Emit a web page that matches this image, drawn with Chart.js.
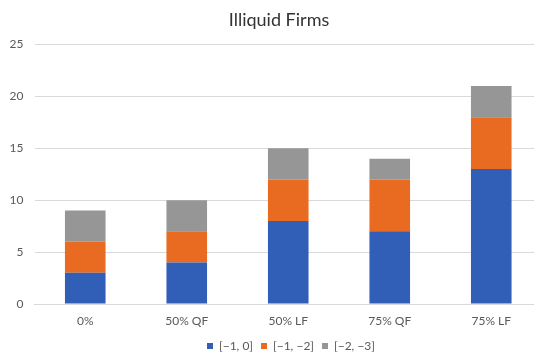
<!DOCTYPE html>
<html>
<head>
<meta charset="utf-8">
<script src="https://cdn.jsdelivr.net/npm/chart.js@4"></script>
<style>
  html, body { margin: 0; padding: 0; background: #fff; overflow: hidden; }
  #wrap { width: 560px; height: 353px; }
</style>
</head>
<body>
<div id="wrap"><canvas id="c" width="560" height="353"></canvas></div>
<script>
// Scenario labels along the x axis
const categories = ['0%', '50% QF', '50% LF', '75% QF', '75% LF'];
// Series names shown in the legend
const seriesNames = ['[\u22121, 0]', '[\u22121, \u22122]', '[\u22122, \u22123]'];
// Number of firms in each band, per scenario
const band0to1 = [3, 4, 8, 7, 13];
const band1to2 = [3, 3, 4, 5, 5];
const band2to3 = [3, 3, 3, 2, 3];
// Y axis ticks
const yTicks = [0, 5, 10, 15, 20, 25];

const colors = ['#315EB6', '#E96B22', '#969696'];
const font = "Lato, 'Open Sans', sans-serif";
const textColor = '#595959';

// Nudge the title and legend sideways once the layout is known
const blockShift = {
  id: 'blockShift',
  afterLayout(chart) {
    const t = chart.titleBlock;
    if (t) { t.left += 8; t.right += 8; }
    const lg = chart.legend;
    if (lg) { lg.left += 20; lg.right += 20; }
  }
};

new Chart(document.getElementById('c'), {
  type: 'bar',
  data: {
    labels: categories,
    datasets: [band0to1, band1to2, band2to3].map((vals, i) => ({
      label: seriesNames[i],
      data: vals,
      backgroundColor: colors[i],
      borderWidth: 0,
      barPercentage: 0.4,
      categoryPercentage: 1.0
    }))
  },
  options: {
    responsive: false,
    animation: false,
    layout: { padding: { left: 0, right: 18, top: 0, bottom: -9 } },
    plugins: {
      title: {
        display: true,
        text: 'Illiquid Firms',
        color: '#333333',
        font: { family: font, size: 18, weight: 'normal' },
        padding: { top: 9, bottom: 14 }
      },
      legend: {
        position: 'bottom',
        labels: {
          color: textColor,
          font: { family: font, size: 12 },
          boxWidth: 6,
          boxHeight: 6,
          padding: 8
        }
      },
      tooltip: { enabled: false }
    },
    scales: {
      x: {
        stacked: true,
        grid: { display: false, drawTicks: false },
        border: { display: true, color: '#D9D9D9', width: 1 },
        ticks: { color: textColor, font: { family: font, size: 12 }, padding: 10 },
        afterFit(scale) { scale.height = 28; }
      },
      y: {
        stacked: true,
        min: 0,
        max: 25,
        afterBuildTicks(scale) { scale.ticks = yTicks.map(v => ({ value: v })); },
        grid: { color: '#D9D9D9', drawTicks: false },
        border: { display: false },
        ticks: { color: textColor, font: { family: font, size: 12 }, padding: 11 },
        afterFit(scale) { scale.width = 34.5; }
      }
    }
  },
  plugins: [blockShift]
});
</script>
</body>
</html>
